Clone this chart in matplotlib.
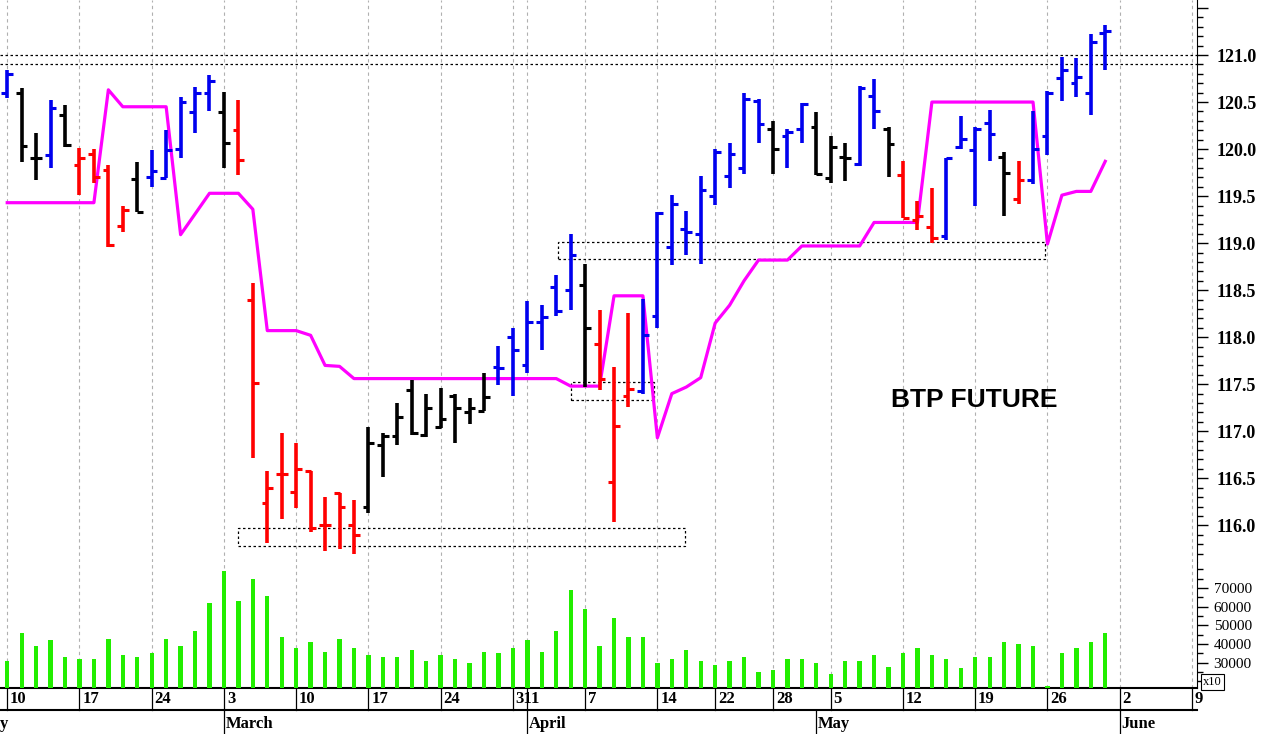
import numpy as np
import pandas as pd
import matplotlib
matplotlib.use("Agg")
import matplotlib.pyplot as plt
from matplotlib.patches import Rectangle
from matplotlib.ticker import MultipleLocator, FixedLocator

# ── Data ──────────────────────────────────────────────────────────────
holidays = ["2014-04-18", "2014-04-21", "2014-05-01"]
dates = [d for d in pd.bdate_range("2014-02-10", "2014-05-30")
         if d.strftime("%Y-%m-%d") not in holidays]

opens = [120.60, 120.60, 119.90, 119.94, 120.36, 119.83, 119.95, 119.78, 119.18, 119.68,
         119.70, 119.69, 120.00, 120.39, 120.60, 120.39, 120.20, 118.40, 116.24, 116.55,
         116.35, 116.58, 116.00, 116.34, 116.00, 116.20, 116.85, 116.95, 117.44, 116.96,
         117.05, 117.38, 117.20, 117.22, 117.68, 118.00, 117.70, 118.16, 118.53, 118.50,
         118.55, 117.93, 116.46, 117.38, 117.43, 118.23, 118.96, 119.15, 119.10, 119.50,
         119.71, 119.80, 120.51, 120.21, 120.14, 120.21, 120.24, 119.69, 119.92, 119.84,
         120.56, 120.21, 119.72, 119.25, 119.17, 119.08, 120.02, 119.99, 120.28, 119.92,
         119.47, 119.67, 120.14, 120.76, 120.70, 120.60, 121.23]
highs = [120.84, 120.65, 120.17, 120.52, 120.47, 120.01, 120.00, 119.83, 119.40, 119.86,
         119.99, 120.20, 120.55, 120.66, 120.79, 120.61, 120.52, 118.58, 116.58, 116.98,
         116.87, 116.58, 116.30, 116.34, 116.27, 117.04, 116.98, 117.30, 117.54, 117.40,
         117.46, 117.40, 117.35, 117.62, 117.91, 118.10, 118.39, 118.34, 118.66, 119.10,
         118.78, 118.29, 117.68, 118.26, 118.41, 119.33, 119.51, 119.34, 119.71, 120.00,
         120.06, 120.60, 120.53, 120.30, 120.21, 120.49, 120.39, 120.14, 120.06, 120.67,
         120.74, 120.23, 119.87, 119.45, 119.59, 119.90, 120.35, 120.23, 120.42, 119.97,
         119.87, 120.41, 120.62, 120.98, 120.97, 121.22, 121.32]
lows = [120.54, 119.86, 119.67, 119.80, 120.02, 119.51, 119.64, 118.96, 119.12, 119.33,
        119.60, 119.69, 119.90, 120.17, 120.41, 119.80, 119.72, 116.72, 115.81, 116.07,
        116.18, 115.93, 115.73, 115.75, 115.70, 116.13, 116.51, 116.85, 116.96, 116.94,
        117.03, 116.87, 117.08, 117.22, 117.49, 117.38, 117.62, 117.86, 118.23, 118.29,
        117.47, 117.44, 116.03, 117.26, 117.40, 118.10, 118.77, 118.87, 118.78, 119.41,
        119.59, 119.73, 120.06, 119.74, 119.80, 120.06, 119.72, 119.64, 119.66, 119.82,
        120.21, 119.70, 119.27, 119.14, 119.00, 119.03, 120.00, 119.39, 119.87, 119.29,
        119.42, 119.63, 119.94, 120.51, 120.55, 120.36, 120.84]
closes = [120.80, 120.03, 119.90, 120.44, 120.04, 119.90, 119.70, 118.98, 119.35, 119.33,
          119.77, 119.99, 120.50, 120.60, 120.72, 120.06, 119.88, 117.51, 116.40, 116.55,
          116.60, 115.97, 116.00, 116.20, 115.90, 116.87, 116.95, 117.15, 116.98, 117.25,
          117.13, 117.25, 117.25, 117.36, 117.67, 117.86, 118.16, 118.21, 118.28, 118.87,
          118.10, 117.56, 117.06, 117.45, 118.02, 119.32, 119.42, 119.12, 119.57, 119.97,
          119.95, 120.53, 120.27, 120.00, 120.18, 120.48, 119.74, 120.02, 119.90, 120.65,
          120.41, 120.05, 119.27, 119.29, 119.05, 119.90, 120.11, 120.21, 120.16, 119.75,
          119.67, 120.00, 120.60, 120.84, 120.77, 121.14, 121.26]
# u = blue, d = red, k = black
signal = list("ukkukddddkuuuuukddddddddd" "kkkkkkkkk" "uuuuuu" "kdddu" "uuuuuuuu"
              "kuukkkuuk" "ddd" "uuuu" "k" "d" "uuuuuu")
stop_line = [119.43, 119.43, 119.43, 119.43, 119.43, 119.43, 119.43, 120.63, 120.45, 120.45,
             120.45, 120.45, 119.09, 119.31, 119.53, 119.53, 119.53, 119.36, 118.07, 118.07,
             118.07, 118.02, 117.70, 117.69, 117.56, 117.56, 117.56, 117.56, 117.56, 117.56,
             117.56, 117.56, 117.56, 117.56, 117.56, 117.56, 117.56, 117.56, 117.56, 117.48,
             117.48, 117.48, 118.44, 118.44, 118.44, 116.93, 117.40, 117.47, 117.57, 118.15,
             118.34, 118.60, 118.82, 118.82, 118.82, 118.97, 118.97, 118.97, 118.97, 118.97,
             119.22, 119.22, 119.22, 119.22, 120.50, 120.50, 120.50, 120.50, 120.50, 120.50,
             120.50, 120.50, 118.99, 119.51, 119.55, 119.55, 119.87]
volume = [31000, 46000, 39000, 42000, 33000, 32000, 32000, 43000, 34000, 33000,
          35000, 43000, 39000, 47000, 62000, 79000, 63000, 75000, 66000, 44000,
          38000, 41000, 36000, 43000, 38000, 34000, 33000, 33000, 37000, 31000,
          34000, 32000, 30000, 36000, 35000, 38000, 42000, 36000, 47000, 69000,
          59000, 39000, 54000, 44000, 44000, 30000, 32000, 37000, 31000, 29000,
          31000, 33000, 25000, 26000, 32000, 32000, 30000, 24000, 31000, 31000,
          34000, 28000, 35000, 38000, 34000, 32000, 27000, 33000, 33000, 41000,
          40000, 39000, 17500, 35000, 38000, 41000, 46000]
h_levels = [121.0, 120.9]
boxes = [(16.0, 46.9, 115.78, 115.97), (38.1, 71.8, 118.83, 119.01), (39.0, 44.8, 117.33, 117.52)]
week_starts = [0, 5, 10, 15, 20, 25, 30, 35, 36, 40, 45, 49, 53, 57, 62, 67, 72, 77, 82]
week_labels = ["10", "17", "24", "3", "10", "17", "24", "31", "1", "7", "14", "22", "28",
               "5", "12", "19", "26", "2", "9"]
month_starts = [-30, 15, 36, 56, 77]
month_labels = ["February", "March", "April", "May", "June"]

COLORS = {"u": "#0000EE", "d": "#FF0000", "k": "#000000"}
x = np.arange(len(dates))
XMIN, XMAX = -0.5, 82.35

# ── Figure ────────────────────────────────────────────────────────────
fig = plt.figure(figsize=(12.68, 7.34), dpi=100)
ax = fig.add_axes([0, 1 - 562 / 734, 1197 / 1268, 562 / 734])
axv = fig.add_axes([0, 1 - 688 / 734, 1197 / 1268, 126 / 734])

for a in (ax, axv):
    a.set_xlim(XMIN, XMAX)
    for s in ("left", "top", "bottom"):
        a.spines[s].set_visible(False)
    a.yaxis.tick_right()
    a.tick_params(axis="x", bottom=False, labelbottom=False)
    for w in week_starts:
        a.axvline(w, color="#B0B0B0", linestyle=(0, (3, 3)), linewidth=0.8, zorder=0)

# price panel
ax.set_ylim(115.61, 121.585)
for lv in h_levels:
    ax.axhline(lv, color="black", linestyle=(0, (2, 2)), linewidth=0.9)
for x0, x1, y0, y1 in boxes:
    ax.add_patch(Rectangle((x0, y0), x1 - x0, y1 - y0, fill=False, edgecolor="black",
                           linestyle=(0, (2, 2)), linewidth=0.9))

ax.plot(x, stop_line, color="#FF00FF", linewidth=2.3, zorder=3)
cols = [COLORS[s] for s in signal]
ax.vlines(x, lows, highs, colors=cols, linewidth=2.6, zorder=4)
ax.hlines(opens, x - 0.4, x, colors=cols, linewidth=2.2, zorder=4)
ax.hlines(closes, x, x + 0.4, colors=cols, linewidth=2.2, zorder=4)

ax.text(66.9, 117.33, "BTP FUTURE", fontsize=19, fontweight="bold",
        family="Liberation Sans", ha="center", va="center")

ax.yaxis.set_major_locator(MultipleLocator(0.5))
ax.yaxis.set_minor_locator(MultipleLocator(0.1))
ax.yaxis.set_major_formatter(lambda v, p: f"{v:.1f}" if v < 121.2 else "")
ax.tick_params(axis="y", which="major", length=8, width=1, labelsize=13, pad=6)
ax.tick_params(axis="y", which="minor", length=4, width=1)
for lab in ax.get_yticklabels():
    lab.set_family("Liberation Serif")
    lab.set_fontweight("bold")

# volume panel
axv.set_ylim(16500, 84000)
axv.spines["top"].set_linewidth(1.5)
axv.bar(x, volume, width=0.3, color="#22EE00", zorder=3)
axv.set_yticks([30000, 40000, 50000, 60000, 70000])
axv.yaxis.set_minor_locator(FixedLocator([20000, 25000, 35000, 45000, 55000, 65000, 75000, 80000]))
axv.tick_params(axis="y", which="major", length=8, width=1, labelsize=11, pad=4)
axv.tick_params(axis="y", which="minor", length=4, width=1)
for lab in axv.get_yticklabels():
    lab.set_family("Liberation Serif")
axv.text(1.005, 0.0, "x10", transform=axv.transAxes, fontsize=9, family="Liberation Serif",
         ha="left", va="bottom",
         bbox=dict(boxstyle="square,pad=0.15", fc="white", ec="black", lw=0.8))

# date rows below the volume panel
tr = axv.get_xaxis_transform()
row = 22 / 126
axv.plot([XMIN, XMAX], [0, 0], transform=tr, color="black", lw=1.5, clip_on=False)
axv.plot([XMIN, XMAX], [-row, -row], transform=tr, color="black", lw=1.5, clip_on=False)
for w, lab in zip(week_starts, week_labels):
    axv.plot([w, w], [0, -row], transform=tr, color="black", lw=0.9, clip_on=False)
    axv.text(w + 0.2, -row / 2, lab, transform=tr, fontsize=12, fontweight="bold",
             family="Liberation Serif", ha="left", va="center", clip_on=False)
for m, lab in zip(month_starts, month_labels):
    if m > XMIN:
        axv.plot([m, m], [-row, -2.2 * row], transform=tr, color="black", lw=0.9, clip_on=False)
        axv.text(m + 0.1, -1.65 * row, lab, transform=tr, fontsize=12, fontweight="bold",
                 family="Liberation Serif", ha="left", va="center", clip_on=False)
    else:
        axv.text(XMIN + 0.6, -1.65 * row, "y", transform=tr, fontsize=12, fontweight="bold",
                 family="Liberation Serif", ha="right", va="center", clip_on=False)

fig.savefig("out.png", dpi=100)
